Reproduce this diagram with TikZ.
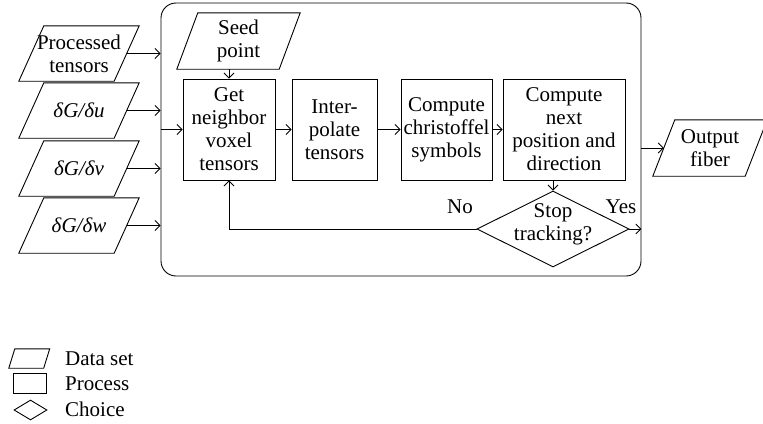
\documentclass[tikz,border=0pt]{standalone}
\usepackage{fontspec}
\setmainfont{Liberation Serif}
\usetikzlibrary{arrows.meta,shapes.geometric}
\tikzset{
  every node/.style={font=\fontsize{21}{23}\selectfont},
  box/.style={draw, line width=0.9pt, inner sep=0pt, align=center},
  plain/.style={inner sep=0pt, align=center},
  arr/.style={line width=0.9pt, -{Straight Barb[length=5pt,width=10pt]}},
  edgeline/.style={line width=0.9pt},
}
\newcommand{\datashape}[7]{%
  \node[plain, minimum width=#4, minimum height=#5] (#1) at (#2,#3) {#7};
  \draw[edgeline] ([xshift=#6/2]#1.north west) -- ([xshift=#6/2]#1.north east) -- ([xshift=-#6/2]#1.south east) -- ([xshift=-#6/2]#1.south west) -- cycle;
}
\begin{document}
\begin{tikzpicture}[x=1pt,y=1pt]
\useasboundingbox (0,0) rectangle (763,-423);
% frame
\node[draw, edgeline, rounded corners=15pt, minimum width=480, minimum height=273, inner sep=0pt] (frame) at (401,-139.5) {};
% inputs
\datashape{pt}{79}{-53.5}{95}{55}{25}{Processed\\tensors}
\datashape{du}{79}{-110.5}{95}{55}{25}{\itshape δG/δu}
\datashape{dv}{79}{-168.5}{95}{55}{25}{\itshape δG/δv}
\datashape{dw}{79}{-225.5}{95}{55}{25}{\itshape δG/δw}
\datashape{seed}{238.5}{-41}{102}{56}{21}{Seed\\point}
\datashape{out}{710}{-148}{92}{56}{22}{Output\\fiber}
% processes
\node[box, minimum width=92, minimum height=101] (get) at (229,-129.5) {Get\\neighbor\\voxel\\tensors};
\node[box, minimum width=85, minimum height=101] (interp) at (334.5,-129.5) {Inter-\\polate\\tensors};
\node[box, minimum width=91, minimum height=101] (chris) at (446.5,-129.5) {Compute\\christoffel\\symbols};
\node[box, minimum width=122, minimum height=101] (next) at (564,-129.5) {Compute\\next\\position and\\direction};
% choice
\node[diamond, draw, edgeline, minimum width=152, minimum height=76, inner sep=0pt] (dia) at (553,-229) {};
\node[plain] (diatext) at (553,-224) {Stop\\tracking?};
\node[plain] (yes) at (621,-207) {Yes};
\node[plain] (no) at (460,-207) {No};
% connectors
\foreach \n in {pt,du,dv,dw} \draw[arr] (\n.east) -- (\n.east -| frame.west);
\draw[arr] (get.west -| frame.west) -- (get.west);
\draw[arr] (seed.south -| get.north) -- (get.north);
\draw[arr] (get) -- (interp);
\draw[arr] (interp) -- (chris);
\draw[arr] (chris) -- (next);
\draw[arr] (dia.north |- next.south) -- (dia.north);
\draw[arr] (dia.west) -| (get.south);
\draw[arr] (dia.east) -- (dia.east -| frame.east);
\draw[arr] (out.west -| frame.east) -- (out.west);
% legend
\datashape{legd}{29.25}{-358.5}{34.5}{19}{6}{}
\node[box, minimum width=33, minimum height=20] (legp) at (29.5,-383) {};
\node[diamond, draw, edgeline, minimum width=33, minimum height=20, inner sep=0pt] (legc) at (30.5,-410) {};
\node[plain, anchor=base west] (legdt) at (65,-365) {Data set};
\node[plain, anchor=base west] (legpt) at (65,-390) {Process};
\node[plain, anchor=base west] (legct) at (65,-416) {Choice};
\end{tikzpicture}
\end{document}
